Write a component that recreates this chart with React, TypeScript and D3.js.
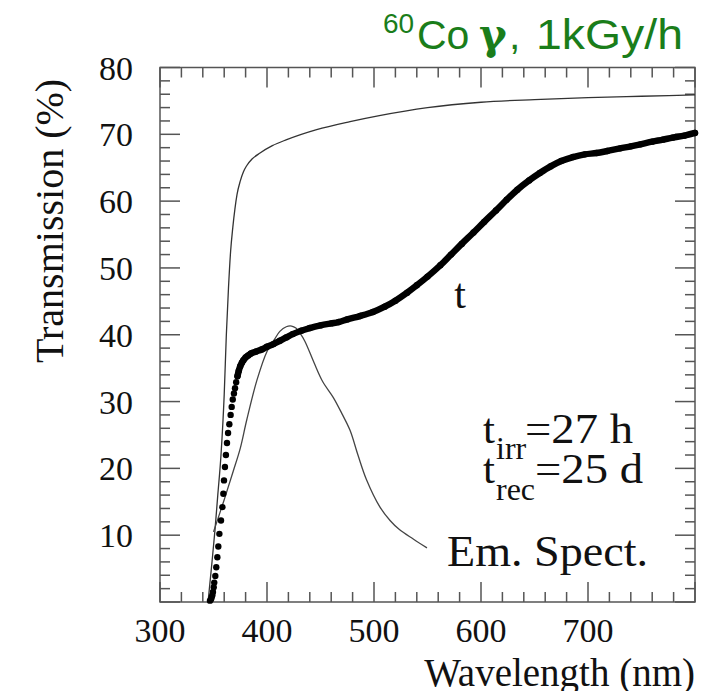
import React from "react";
import * as d3 from "d3";

// Transmission before irradiation (thin line)
const thinWavelength = [344.9, 348, 351.4, 354, 357, 360, 362, 364, 366, 368, 370, 372, 375, 378, 381, 386, 393.5, 405, 418.4, 446.4, 477.6, 505, 550, 600, 650, 700, 750, 800];
const thinTransmission = [0, 5, 10.8, 16, 22, 31, 40, 47, 52.5, 56, 58.8, 61, 63, 64.4, 65.3, 66.3, 67.2, 68.3, 69.2, 70.7, 71.9, 72.8, 74.0, 74.8, 75.2, 75.5, 75.7, 75.9];

// Emission spectrum (thin line)
const emWavelength = [350, 360, 368.5, 375, 381, 390.6, 400, 407, 412, 418, 423, 427, 431, 435.5, 444, 452, 462, 470, 477.6, 485, 493, 505.6, 515, 524, 537, 549.5];
const emValue = [10.5, 15.3, 19.6, 23.0, 27.2, 33.2, 37.5, 39.3, 40.5, 41.2, 41.3, 41.0, 40.2, 39.0, 35.8, 33.0, 30.6, 28.2, 25.7, 22.0, 18.3, 14.2, 12.2, 10.8, 9.4, 8.1];

// Transmission after irradiation + recovery (dotted thick curve "t")
const tWavelength = [346.7, 347.7, 348.3, 348.9, 349.5, 350.2, 350.7, 351.7, 352.6, 353.6, 354.5, 355.5, 357, 358.3, 359.2, 359.8, 360.7, 361.6, 362.6, 363.6, 364.8, 366, 367, 368, 369.1, 370.1, 371.2, 372.4, 373.6, 375, 376.5, 378, 380, 382.5, 385, 390, 395, 400, 406, 412, 418, 424, 432, 440, 450, 460, 467, 475, 487, 499, 510, 520, 531, 540, 550, 562, 572, 582, 593, 603, 614, 624, 634, 645, 655, 665, 675, 686, 697, 708, 718, 730, 740, 749, 760, 770, 779, 790, 800];
const tTransmission = [0.2, 0.4, 0.7, 1.0, 1.5, 2.2, 2.9, 3.9, 5.2, 6.7, 8.3, 10.2, 12.2, 14.2, 16.2, 18.2, 20.2, 22.0, 23.8, 25.3, 26.6, 28.0, 29.2, 30.3, 31.2, 32.0, 32.9, 33.8, 34.6, 35.3, 35.8, 36.2, 36.6, 36.9, 37.2, 37.5, 37.8, 38.2, 38.6, 39.1, 39.6, 40.1, 40.6, 41.0, 41.4, 41.7, 41.9, 42.3, 42.8, 43.4, 44.2, 45.1, 46.3, 47.4, 48.7, 50.4, 52.0, 53.6, 55.3, 56.9, 58.6, 60.2, 61.7, 63.1, 64.2, 65.2, 66.0, 66.6, 67.0, 67.2, 67.5, 67.9, 68.2, 68.5, 68.9, 69.2, 69.5, 69.8, 70.2];

const xTickLabels = [300, 400, 500, 600, 700];
const yTickLabels = [10, 20, 30, 40, 50, 60, 70, 80];

const W = 714;
const H = 691;
const L = 160, R = 695, T = 67.5, B = 602;

export default function App() {
  const x = d3.scaleLinear().domain([300, 800]).range([L, R]);
  const y = d3.scaleLinear().domain([0, 80]).range([B, T]);

  const line = d3
    .line<[number, number]>()
    .x((d) => x(d[0]))
    .y((d) => y(d[1]))
    .curve(d3.curveMonotoneX);

  const smooth = d3
    .line<[number, number]>()
    .x((d) => x(d[0]))
    .y((d) => y(d[1]))
    .curve(d3.curveCatmullRom.alpha(0.5));

  const thin = thinWavelength.map((w, i) => [w, thinTransmission[i]] as [number, number]);
  const em = emWavelength.map((w, i) => [w, emValue[i]] as [number, number]);
  const tPts = tWavelength.map((w, i) => [w, tTransmission[i]] as [number, number]);
  const tBand = tPts.filter((d) => d[0] >= 372);

  const xMinor = d3.range(300, 801, 20);
  const yMinor = d3.range(0, 81, 2);
  const frame = "#555";
  const serif = "'Liberation Serif', 'Times New Roman', serif";

  return (
    <svg width={W} height={H} style={{ position: "absolute", left: 0, top: 0, background: "#fff" }}>
      <rect x={0} y={0} width={W} height={H} fill="#fff" />
      {/* ticks */}
      <g stroke={frame} strokeWidth={1.5}>
        {xMinor.map((v) => {
          const len = v % 100 === 0 ? 20 : 10;
          return (
            <g key={"x" + v}>
              <line x1={x(v)} x2={x(v)} y1={B} y2={B - len} />
              <line x1={x(v)} x2={x(v)} y1={T} y2={T + len} />
            </g>
          );
        })}
        {yMinor.map((v) => {
          const len = v % 10 === 0 ? 20 : 10;
          return (
            <g key={"y" + v}>
              <line x1={L} x2={L + len} y1={y(v)} y2={y(v)} />
              <line x1={R} x2={R - len} y1={y(v)} y2={y(v)} />
            </g>
          );
        })}
        <rect x={L} y={T} width={R - L} height={B - T} fill="none" />
      </g>
      {/* tick labels */}
      <g fontFamily={serif} fontSize={34} fill="#111">
        {xTickLabels.map((v) => (
          <text key={"xl" + v} x={x(v)} y={642} textAnchor="middle">{v}</text>
        ))}
        {yTickLabels.map((v) => (
          <text key={"yl" + v} x={133} y={y(v) + 12} textAnchor="end">{v}</text>
        ))}
      </g>
      {/* axis titles */}
      <text x={695} y={686} textAnchor="end" fontFamily={serif} fontSize={39} fill="#111">Wavelength (nm)</text>
      <text transform="translate(63,363) rotate(-90)" textAnchor="start" fontFamily={serif} fontSize={40} fill="#111">Transmission (%)</text>

      {/* curves */}
      <path d={line(thin) || ""} fill="none" stroke="#333" strokeWidth={1.3} />
      <path d={smooth(em) || ""} fill="none" stroke="#444" strokeWidth={1.3} />
      <path d={line(tBand) || ""} fill="none" stroke="#000" strokeWidth={6.5} strokeLinecap="round" />
      <g fill="#000">
        {tPts.map((d, i) => (
          <circle key={"c" + i} cx={x(d[0])} cy={y(d[1])} r={3.2} />
        ))}
      </g>

      {/* annotations */}
      <g fontFamily={serif} fill="#111">
        <text x={460} y={308} fontSize={42} textAnchor="middle">t</text>
        <text x={483} y={443} fontSize={43}>
          t
          <tspan x={496} y={459} fontSize={32}>irr</tspan>
          <tspan x={525} y={443} textLength={108} lengthAdjust="spacingAndGlyphs">=27 h</tspan>
        </text>
        <text x={483} y={483} fontSize={43}>
          t
          <tspan x={496} y={500} fontSize={32}>rec</tspan>
          <tspan x={535} y={483} textLength={108} lengthAdjust="spacingAndGlyphs">=25 d</tspan>
        </text>
        <text x={447} y={566} fontSize={44} textLength={201} lengthAdjust="spacingAndGlyphs">Em. Spect.</text>
      </g>

      {/* title */}
      <text fill="#1a7d1a" fontFamily="'Liberation Sans', Arial, sans-serif" fontSize={41} x={383} y={49}>
        <tspan x={383} y={33} fontSize={28}>60</tspan>
        <tspan x={417} y={49}>Co</tspan>
        <tspan x={479} y={49} fontSize={42} fontFamily="'DejaVu Serif', serif" fontWeight="bold">γ</tspan>
        <tspan x={509} y={49}>,</tspan>
        <tspan x={536} y={49} fontSize={42} textLength={147} lengthAdjust="spacingAndGlyphs">1kGy/h</tspan>
      </text>
    </svg>
  );
}
